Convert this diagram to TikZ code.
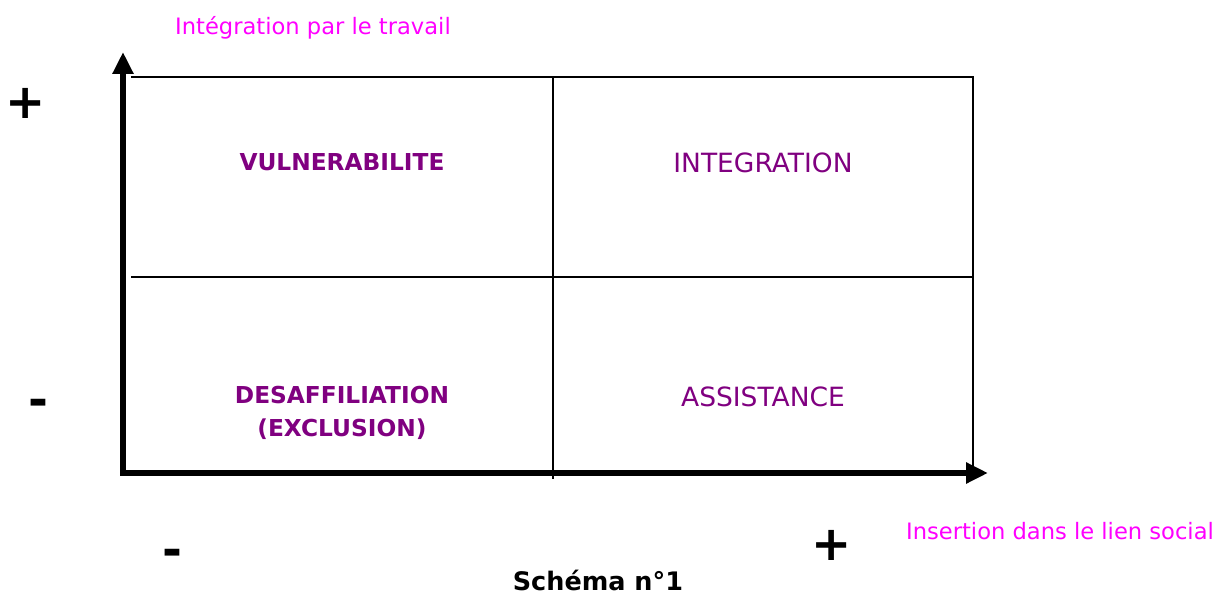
\documentclass[tikz,border=0pt]{standalone}
\usepackage{fontspec}
\setmainfont{DejaVu Sans}
\usetikzlibrary{arrows.meta}
\definecolor{prune}{RGB}{128,0,128}
\definecolor{rose}{RGB}{255,0,255}
\tikzset{
  quadrant/.style={text=prune,font=\fontsize{26.5}{33}\selectfont,align=center},
  strong quadrant/.style={quadrant,font=\fontsize{23.3}{33}\selectfont\bfseries},
  axislabel/.style={text=rose,font=\fontsize{22.6}{26}\selectfont},
  sign/.style={font=\fontsize{48}{48}\selectfont\bfseries},
  grid line/.style={line width=2.2pt},
}
\begin{document}
\begin{tikzpicture}[x=1pt,y=-1pt]
  \useasboundingbox (0,0) rectangle (1216,596);
  % the four boxes
  \draw[grid line] (131,77) -- (973,77) -- (973,473);
  \draw[grid line] (553,77) -- (553,479);
  \draw[grid line] (131,277) -- (973,277);
  % axes
  \coordinate (ytip) at (123,52);
  \coordinate (origin) at (123,473);
  \coordinate (xtip) at (988,473);
  \draw[line width=5.5pt,{Triangle[length=22pt,width=20pt]}-{Triangle[length=22pt,width=20pt]}] (ytip) -- (origin) -- (xtip);
  % quadrant names
  \node[strong quadrant] (vuln) at (342,162) {VULNERABILITE};
  \node[quadrant] (integ) at (763,163) {INTEGRATION};
  \node[strong quadrant] (desaff) at (342,413) {DESAFFILIATION\\(EXCLUSION)};
  \node[quadrant] (assist) at (763,397) {ASSISTANCE};
  % axis names and signs
  \node[axislabel] (travail) at (313,28) {Intégration par le travail};
  \node[axislabel] (social) at (1060,531) {Insertion dans le lien social};
  \node[sign] (yplus) at (26,103) {+};
  \node[sign] (yminus) at (38,408) {-};
  \node[sign] (xminus) at (172,558) {-};
  \node[sign] (xplus) at (832,545) {+};
  \node[font=\fontsize{25.5}{30}\selectfont\bfseries] (caption) at (598,580) {Schéma n°1};
\end{tikzpicture}
\end{document}
